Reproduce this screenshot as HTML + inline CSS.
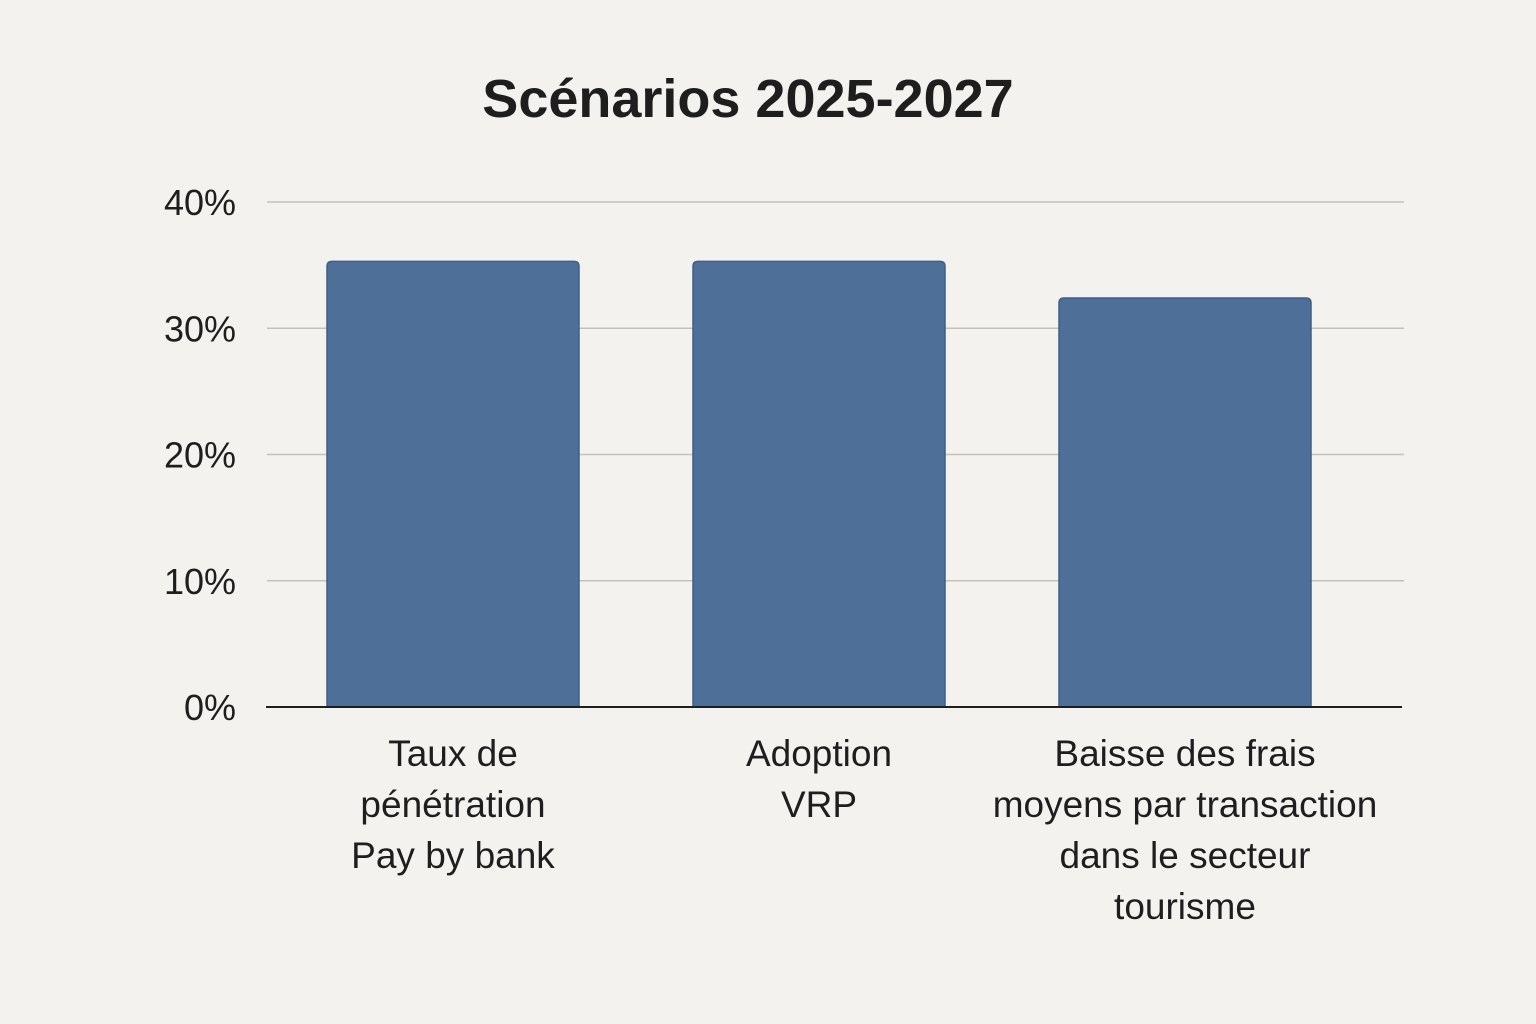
<!DOCTYPE html>
<html><head><meta charset="utf-8">
<style>
html,body{margin:0;padding:0;background:#f4f2ee;}
svg{display:block;}
text{font-family:"Liberation Sans","DejaVu Sans",sans-serif;fill:#1e1e1e;}
</style></head>
<body>
<svg id="chart" width="1536" height="1024" viewBox="0 0 1536 1024" xmlns="http://www.w3.org/2000/svg">
<rect width="1536" height="1024" fill="#f4f2ee"/>
<text x="748" y="117" text-anchor="middle" font-size="54" font-weight="600">Scénarios 2025-2027</text>
<g id="grid"></g><g id="bars"></g><g id="labels"></g>
</svg>
<script>
const categories = [["Taux de","pénétration","Pay by bank"],["Adoption","VRP"],["Baisse des frais","moyens par transaction","dans le secteur","tourisme"]];
const values = [35.3, 35.3, 32.4];
const ticks = [0, 10, 20, 30, 40];
const tickLabels = ["0%", "10%", "20%", "30%", "40%"];

const NS = "http://www.w3.org/2000/svg";
const y0 = 707, y40 = 202;
function yScale(v){ return y0 - (v/40)*(y0-y40); }
const bandStart = 270, bandStep = 366, barW = 252;
function xCenter(i){ return bandStart + bandStep*(i+0.5); }
function mk(tag, attrs, parent){ const e=document.createElementNS(NS,tag); for(const k in attrs) e.setAttribute(k,attrs[k]); parent.appendChild(e); return e; }

const grid=document.getElementById('grid');
ticks.forEach((t,i)=>{
  const y=yScale(t);
  if(t>0){
    const l=mk('line',{x1:267,x2:1404,y1:y,y2:y,stroke:'#c4c1bb','stroke-width':1.5},grid);
    
    
  }
  const tx=mk('text',{x:236,y:y+13,'text-anchor':'end','font-size':36},grid);
  tx.textContent=tickLabels[i];
  
  
});

const bars=document.getElementById('bars');
values.forEach((v,i)=>{
  const cx=xCenter(i), top=yScale(v);
  const r=mk('path',{d:`M${cx-barW/2},${y0} L${cx-barW/2},${top+5} Q${cx-barW/2},${top} ${cx-barW/2+5},${top} L${cx+barW/2-5},${top} Q${cx+barW/2},${top} ${cx+barW/2},${top+5} L${cx+barW/2},${y0} Z`,fill:'#4e6f97',stroke:'#3f5f88','stroke-width':1.5},bars);
  
  
});
const ax=mk('line',{x1:266,x2:1402,y1:y0,y2:y0,stroke:'#1e1e1e','stroke-width':2},bars);



const labels=document.getElementById('labels');
categories.forEach((lines,i)=>{
  const t=mk('text',{x:xCenter(i),'text-anchor':'middle','font-size':37},labels);
  
  
  lines.forEach((ln,j)=>{
    const s=mk('tspan',{x:xCenter(i),y:766+j*51},t);
    s.textContent=ln;
  });
});
</script>
</body></html>
